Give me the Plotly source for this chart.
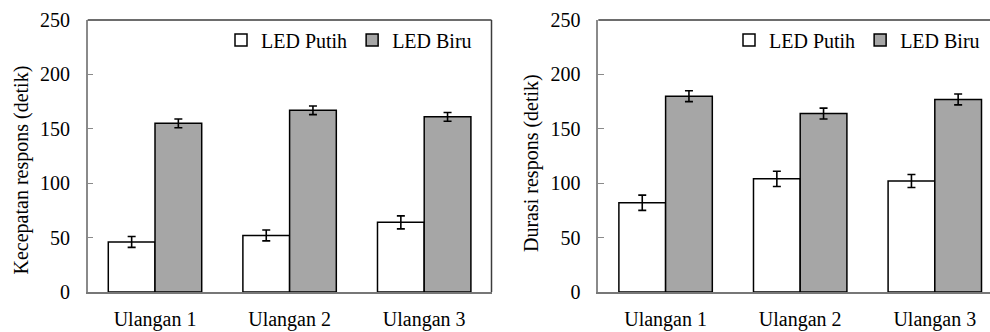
import plotly.graph_objects as go

# Data
categories = ["Ulangan 1", "Ulangan 2", "Ulangan 3"]
series_names = ["LED Putih", "LED Biru"]

speed_putih = [46, 52, 64]
speed_putih_err = [5, 5, 6]
speed_biru = [155, 167, 161]
speed_biru_err = [4, 4, 4]

duration_putih = [82, 104, 102]
duration_putih_err = [7, 7, 6]
duration_biru = [180, 164, 177]
duration_biru_err = [5, 5, 5]

y_ticks = [0, 50, 100, 150, 200, 250]

W, H = 990, 332
FONT = "'Liberation Serif', 'Times New Roman', serif"
WHITE_FILL = "#ffffff"
GRAY_FILL = "#a6a6a6"
AXIS_GRAY = "#8a8a8a"
FRAME_DARK = "#3c3c3c"


def px_x(v):
    return v / W


def px_y(v):
    return 1 - v / H


fig = go.Figure()


def add_pair(xaxis, yaxis, legend, putih, putih_err, biru, biru_err):
    for name, vals, errs, fill in [
        (series_names[0], putih, putih_err, WHITE_FILL),
        (series_names[1], biru, biru_err, GRAY_FILL),
    ]:
        fig.add_trace(go.Bar(
            x=categories, y=vals, name=name,
            xaxis=xaxis, yaxis=yaxis, legend=legend,
            marker=dict(color=fill, line=dict(color="#000000", width=1.5)),
            error_y=dict(type="data", array=errs, visible=True,
                         color="#000000", thickness=1.6, width=4),
        ))


add_pair("x", "y", "legend", speed_putih, speed_putih_err, speed_biru, speed_biru_err)
add_pair("x2", "y2", "legend2", duration_putih, duration_putih_err,
         duration_biru, duration_biru_err)

# Plot area geometry (pixels)
L1, R1 = 87.7, 491.5
L2 = 598.3
TOP, BOT = 20, 292
cat_px = (R1 - L1) / 3
x2_span = (W - L2) / cat_px

xaxis_common = dict(
    type="category", showgrid=False, zeroline=False, automargin=False,
    showline=True, linecolor="#777777", linewidth=2,
    ticks="", tickfont=dict(family=FONT, size=20, color="#000000"),
    ticklabelstandoff=8, fixedrange=True,
)
yaxis_common = dict(
    range=[0, 250], tickvals=y_ticks, showgrid=False, zeroline=False,
    automargin=False,
    showline=True, linecolor=AXIS_GRAY, linewidth=1.5,
    ticks="inside", ticklen=6, tickwidth=1.2, tickcolor=AXIS_GRAY,
    tickfont=dict(family=FONT, size=20, color="#000000"),
    ticklabelstandoff=12, fixedrange=True,
)

legend_common = dict(
    orientation="h", yanchor="middle", y=px_y(40), xanchor="right",
    bgcolor="rgba(0,0,0,0)", font=dict(family=FONT, size=20, color="#000000"),
    itemclick=False, itemdoubleclick=False, tracegroupgap=0,
)

fig.update_layout(
    width=W, height=H,
    margin=dict(l=0, r=0, t=0, b=0, pad=0, autoexpand=False),
    paper_bgcolor="#ffffff", plot_bgcolor="#ffffff",
    barmode="group", bargap=0.306, bargroupgap=0,
    font=dict(family=FONT, size=20, color="#000000"),
    xaxis=dict(domain=[px_x(L1), px_x(R1)], range=[-0.5, 2.5], **xaxis_common),
    yaxis=dict(domain=[px_y(BOT), px_y(TOP)], anchor="x", **yaxis_common),
    xaxis2=dict(domain=[px_x(L2), 1], range=[-0.5, -0.5 + x2_span], anchor="y2",
                **xaxis_common),
    yaxis2=dict(domain=[px_y(BOT), px_y(TOP)], anchor="x2", **yaxis_common),
    legend=dict(x=px_x(477), **legend_common),
    legend2=dict(x=px_x(985), **legend_common),
    showlegend=True,
)

# Dark frame on top and right of each plot area
fig.add_shape(type="line", xref="paper", yref="paper",
              x0=px_x(L1), x1=px_x(R1), y0=px_y(TOP), y1=px_y(TOP),
              line=dict(color=FRAME_DARK, width=1.5))
fig.add_shape(type="line", xref="paper", yref="paper",
              x0=px_x(R1), x1=px_x(R1), y0=px_y(TOP), y1=px_y(BOT),
              line=dict(color=FRAME_DARK, width=1.5))
fig.add_shape(type="line", xref="paper", yref="paper",
              x0=px_x(L2), x1=1, y0=px_y(TOP), y1=px_y(TOP),
              line=dict(color=FRAME_DARK, width=1.5))

# Axis titles
fig.add_annotation(text="Kecepatan respons (detik)", xref="paper", yref="paper",
                   x=px_x(20.5), y=px_y(170), textangle=-90, showarrow=False,
                   xanchor="center", yanchor="middle",
                   font=dict(family=FONT, size=20, color="#000000"))
fig.add_annotation(text="Durasi respons (detik)", xref="paper", yref="paper",
                   x=px_x(531.5), y=px_y(163.5), textangle=-90, showarrow=False,
                   xanchor="center", yanchor="middle",
                   font=dict(family=FONT, size=20, color="#000000"))

fig.write_html("out.html")
